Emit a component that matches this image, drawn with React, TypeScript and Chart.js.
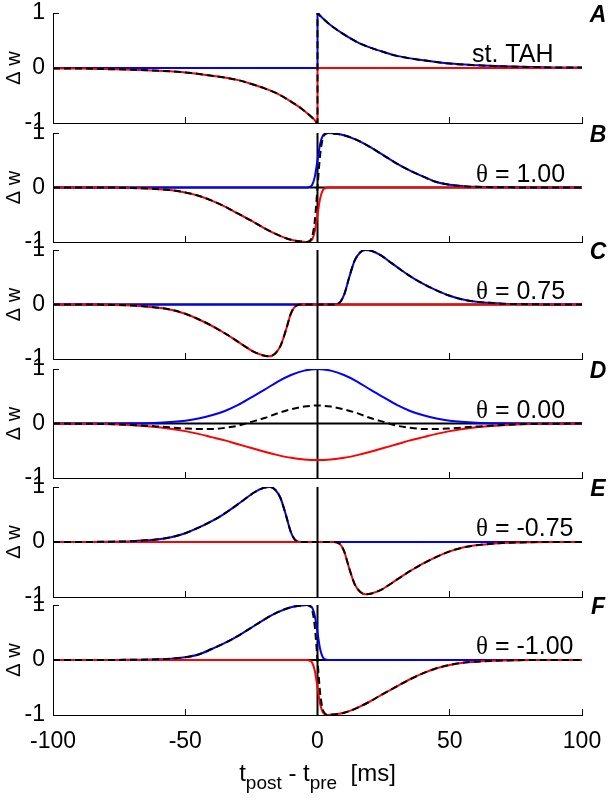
import React, { useEffect, useRef } from "react";
import { Chart, registerables } from "chart.js";
Chart.register(...registerables);

// ---------------- data ----------------
const xTicks = [-100, -50, 0, 50, 100];
const yTicks = [-1, 0, 1];
const panelLetters = ["A", "B", "C", "D", "E", "F"];
const panelLabels = ["st. TAH", "θ = 1.00", "θ = 0.75", "θ = 0.00", "θ = -0.75", "θ = -1.00"];

// A: st. TAH
const xA = [-100, -90, -80, -70, -60, -50, -40, -30, -25, -20, -15, -10, -6, -3, -1, 0, 0, 1, 3, 6, 10, 15, 20, 25, 30, 40, 50, 60, 70, 80, 90, 100];
const blueA = [0, 0, 0, 0, 0, 0, 0, 0, 0, 0, 0, 0, 0, 0, 0, 0, 1, 0.95, 0.86, 0.74, 0.61, 0.47, 0.37, 0.29, 0.22, 0.14, 0.08, 0.05, 0.03, 0.02, 0.01, 0.01];
const redA = [-0.01, -0.01, -0.02, -0.03, -0.05, -0.08, -0.14, -0.22, -0.29, -0.37, -0.47, -0.61, -0.74, -0.86, -0.95, -1, 0, 0, 0, 0, 0, 0, 0, 0, 0, 0, 0, 0, 0, 0, 0, 0];
const blackA = [-0.01, -0.01, -0.02, -0.03, -0.05, -0.08, -0.14, -0.22, -0.29, -0.37, -0.47, -0.61, -0.74, -0.86, -0.95, -1, 1, 0.95, 0.86, 0.74, 0.61, 0.47, 0.37, 0.29, 0.22, 0.14, 0.08, 0.05, 0.03, 0.02, 0.01, 0.01];

// B: theta = 1.00
const xB = [-100, -80, -70, -60, -55, -50, -45, -40, -35, -30, -25, -20, -15, -10, -6, -4, -3, -2, -1, 0, 1, 2, 3, 4, 6, 10, 15, 20, 25, 30, 35, 40, 45, 50, 55, 60, 70, 80, 100];
const blueB = [0, 0, 0, 0, 0, 0, 0, 0, 0, 0, 0, 0, 0, 0, 0, 0, 0.01, 0.05, 0.2, 0.5, 0.8, 0.95, 0.99, 1, 0.99, 0.96, 0.87, 0.74, 0.59, 0.44, 0.31, 0.2, 0.1, 0.05, 0.025, 0.012, 0.005, 0, 0];
const redB = [0, 0, -0.01, -0.03, -0.05, -0.09, -0.15, -0.24, -0.35, -0.48, -0.61, -0.75, -0.87, -0.96, -0.99, -1, -0.99, -0.95, -0.8, -0.5, -0.2, -0.05, -0.01, 0, 0, 0, 0, 0, 0, 0, 0, 0, 0, 0, 0, 0, 0, 0, 0];
const blackB = [0, 0, -0.01, -0.03, -0.05, -0.09, -0.15, -0.24, -0.35, -0.48, -0.61, -0.75, -0.87, -0.96, -0.99, -1, -0.98, -0.9, -0.6, 0, 0.6, 0.9, 0.98, 1, 0.99, 0.96, 0.87, 0.74, 0.59, 0.44, 0.31, 0.2, 0.1, 0.05, 0.025, 0.012, 0.005, 0, 0];

// C: theta = 0.75
const xC = [-100, -90, -80, -70, -65, -60, -55, -50, -45, -40, -36, -32, -28, -24, -20, -18, -16, -14, -12, -10, -8, -6, 0, 6, 8, 10, 12, 14, 16, 18, 20, 24, 28, 32, 36, 40, 45, 50, 55, 60, 65, 70, 80, 90, 100];
const blueC = [0, 0, 0, 0, 0, 0, 0, 0, 0, 0, 0, 0, 0, 0, 0, 0, 0, 0, 0, 0, 0, 0, 0, 0, 0.02, 0.17, 0.5, 0.8, 0.95, 1, 0.99, 0.9, 0.76, 0.62, 0.49, 0.38, 0.26, 0.16, 0.09, 0.05, 0.03, 0.015, 0.005, 0, 0];
const redC = [0, 0, -0.005, -0.02, -0.035, -0.06, -0.1, -0.17, -0.27, -0.39, -0.5, -0.62, -0.75, -0.87, -0.94, -0.95, -0.9, -0.76, -0.48, -0.16, -0.02, 0, 0, 0, 0, 0, 0, 0, 0, 0, 0, 0, 0, 0, 0, 0, 0, 0, 0, 0, 0, 0, 0, 0, 0];
const blackC = [0, 0, -0.005, -0.02, -0.035, -0.06, -0.1, -0.17, -0.27, -0.39, -0.5, -0.62, -0.75, -0.87, -0.94, -0.95, -0.9, -0.76, -0.48, -0.16, -0.02, 0, 0, 0, 0.02, 0.17, 0.5, 0.8, 0.95, 1, 0.99, 0.9, 0.76, 0.62, 0.49, 0.38, 0.26, 0.16, 0.09, 0.05, 0.03, 0.015, 0.005, 0, 0];

// D: theta = 0.00
const xD = [-100, -90, -80, -70, -60, -50, -45, -40, -35, -30, -25, -20, -15, -10, -5, 0, 5, 10, 15, 20, 25, 30, 35, 40, 45, 50, 60, 70, 80, 90, 100];
const blueD = [0, 0, 0, 0.003, 0.014, 0.05, 0.09, 0.15, 0.23, 0.34, 0.48, 0.62, 0.77, 0.89, 0.97, 1, 0.97, 0.89, 0.77, 0.62, 0.48, 0.34, 0.23, 0.15, 0.09, 0.05, 0.014, 0.003, 0, 0, 0];
const redD = [0, -0.005, -0.01, -0.03, -0.07, -0.14, -0.19, -0.25, -0.31, -0.38, -0.45, -0.52, -0.58, -0.63, -0.66, -0.67, -0.66, -0.63, -0.58, -0.52, -0.45, -0.38, -0.31, -0.25, -0.19, -0.14, -0.07, -0.03, -0.01, -0.005, 0];
const blackD = [0, -0.005, -0.01, -0.027, -0.056, -0.09, -0.1, -0.1, -0.08, -0.04, 0.03, 0.1, 0.19, 0.26, 0.31, 0.33, 0.31, 0.26, 0.19, 0.1, 0.03, -0.04, -0.08, -0.1, -0.1, -0.09, -0.056, -0.027, -0.01, -0.005, 0];

// E: theta = -0.75
const xE = [-100, -90, -80, -70, -65, -60, -55, -50, -45, -40, -36, -32, -28, -24, -20, -18, -16, -14, -12, -10, -8, -6, 0, 6, 8, 10, 12, 14, 16, 18, 20, 24, 28, 32, 36, 40, 45, 50, 55, 60, 65, 70, 80, 90, 100];
const blueE = [0, 0, 0.005, 0.015, 0.03, 0.05, 0.09, 0.16, 0.26, 0.38, 0.49, 0.62, 0.76, 0.9, 0.99, 1, 0.95, 0.8, 0.5, 0.17, 0.02, 0, 0, 0, 0, 0, 0, 0, 0, 0, 0, 0, 0, 0, 0, 0, 0, 0, 0, 0, 0, 0, 0, 0, 0];
const redE = [0, 0, 0, 0, 0, 0, 0, 0, 0, 0, 0, 0, 0, 0, 0, 0, 0, 0, 0, 0, 0, 0, 0, 0, -0.02, -0.16, -0.48, -0.76, -0.9, -0.95, -0.94, -0.87, -0.75, -0.62, -0.5, -0.39, -0.27, -0.17, -0.1, -0.06, -0.035, -0.02, -0.005, 0, 0];
const blackE = [0, 0, 0.005, 0.015, 0.03, 0.05, 0.09, 0.16, 0.26, 0.38, 0.49, 0.62, 0.76, 0.9, 0.99, 1, 0.95, 0.8, 0.5, 0.17, 0.02, 0, 0, 0, -0.02, -0.16, -0.48, -0.76, -0.9, -0.95, -0.94, -0.87, -0.75, -0.62, -0.5, -0.39, -0.27, -0.17, -0.1, -0.06, -0.035, -0.02, -0.005, 0, 0];

// F: theta = -1.00
const xF = [-100, -80, -70, -60, -55, -50, -45, -40, -35, -30, -25, -20, -15, -10, -6, -4, -3, -2, -1, 0, 1, 2, 3, 4, 6, 10, 15, 20, 25, 30, 35, 40, 45, 50, 55, 60, 70, 80, 100];
const blueF = [0, 0, 0.005, 0.012, 0.025, 0.05, 0.1, 0.2, 0.31, 0.44, 0.59, 0.74, 0.87, 0.96, 0.99, 1, 0.99, 0.95, 0.8, 0.5, 0.2, 0.05, 0.01, 0, 0, 0, 0, 0, 0, 0, 0, 0, 0, 0, 0, 0, 0, 0, 0];
const redF = [0, 0, 0, 0, 0, 0, 0, 0, 0, 0, 0, 0, 0, 0, 0, 0, -0.01, -0.05, -0.2, -0.5, -0.8, -0.95, -0.99, -1, -0.99, -0.96, -0.87, -0.75, -0.61, -0.48, -0.35, -0.24, -0.15, -0.09, -0.05, -0.03, -0.01, 0, 0];
const blackF = [0, 0, 0.005, 0.012, 0.025, 0.05, 0.1, 0.2, 0.31, 0.44, 0.59, 0.74, 0.87, 0.96, 0.99, 1, 0.98, 0.9, 0.6, 0, -0.6, -0.9, -0.98, -1, -0.99, -0.96, -0.87, -0.75, -0.61, -0.48, -0.35, -0.24, -0.15, -0.09, -0.05, -0.03, -0.01, 0, 0];

const panels = [
  { x: xA, blue: blueA, red: redA, black: blackA, cross: false },
  { x: xB, blue: blueB, red: redB, black: blackB, cross: true },
  { x: xC, blue: blueC, red: redC, black: blackC, cross: true },
  { x: xD, blue: blueD, red: redD, black: blackD, cross: true },
  { x: xE, blue: blueE, red: redE, black: blackE, cross: true },
  { x: xF, blue: blueF, red: redF, black: blackF, cross: true },
];

// ---------------- layout ----------------
const W = 614;
const H = 800;
const plotTop = [13, 133, 250, 369, 487, 605];
const plotBottom = [123, 242, 359, 478, 597, 715];
const plotLeft = 53;
const plotRight = 582;
const SANS = "'Liberation Sans', Arial, Helvetica, sans-serif";
const SERIF = "'Liberation Serif', 'Times New Roman', serif";

function geom(i: number) {
  const last = i === panels.length - 1;
  const padTop = 20;
  const top = plotTop[i] - padTop;
  const plotH = plotBottom[i] - plotTop[i];
  const xAxisH = last ? 40 : 0;
  const padBottom = last ? H - (plotBottom[i] + xAxisH) : 16;
  return { top, padTop, padBottom, xAxisH, h: padTop + plotH + xAxisH + padBottom, last };
}

function pts(xs: number[], ys: number[]) {
  return xs.map((x, i) => ({ x, y: ys[i] }));
}

function textPlugin(idx: number, last: boolean) {
  return {
    id: "panelText" + idx,
    afterDraw(chart: any) {
      const { ctx, chartArea } = chart;
      const zeroY = chart.scales.y.getPixelForValue(0);
      ctx.save();
      ctx.fillStyle = "#000";
      // panel letter
      ctx.font = `bold italic 23px ${SANS}`;
      ctx.textAlign = "center";
      ctx.textBaseline = "middle";
      ctx.fillText(panelLetters[idx], chartArea.right + 16, chartArea.top + 3);
      // parameter label
      ctx.textAlign = "left";
      ctx.textBaseline = "alphabetic";
      const label = panelLabels[idx];
      let lx = chartArea.right - (idx === 0 ? 110 : 106);
      const ly = zeroY - 6;
      if (label.startsWith("θ")) {
        ctx.font = `25px ${SERIF}`;
        ctx.fillText("θ", lx, ly);
        lx += ctx.measureText("θ").width;
        ctx.font = `25px ${SANS}`;
        ctx.fillText(label.slice(1), lx, ly);
      } else {
        ctx.font = `25px ${SANS}`;
        ctx.fillText(label, lx, ly);
      }
      // y title
      ctx.save();
      ctx.translate(chartArea.left - 39, zeroY);
      ctx.rotate(-Math.PI / 2);
      ctx.font = `20px ${SANS}`;
      ctx.textAlign = "center";
      ctx.textBaseline = "middle";
      ctx.fillText("Δ w", 0, 0);
      ctx.restore();
      // x title
      if (last) {
        const parts = [
          { t: "t", sub: false },
          { t: "post", sub: true },
          { t: " - t", sub: false },
          { t: "pre", sub: true },
          { t: "  [ms]", sub: false },
        ];
        const mainFont = `24px ${SANS}`;
        const subFont = `19px ${SANS}`;
        let total = 0;
        for (const p of parts) {
          ctx.font = p.sub ? subFont : mainFont;
          total += ctx.measureText(p.t).width;
        }
        let x = (chartArea.left + chartArea.right) / 2 - total / 2;
        const base = chartArea.bottom + 66;
        ctx.textAlign = "left";
        ctx.textBaseline = "alphabetic";
        for (const p of parts) {
          ctx.font = p.sub ? subFont : mainFont;
          ctx.fillText(p.t, x, p.sub ? base + 8 : base);
          x += ctx.measureText(p.t).width;
        }
      }
      ctx.restore();
    },
  };
}

function makeConfig(i: number): any {
  const p = panels[i];
  const g = geom(i);
  const datasets: any[] = [
    { data: pts(p.x, p.black), borderColor: "#000000", borderWidth: 2, borderDash: [7, 4], order: 1 },
    { data: pts(p.x, p.red), borderColor: "#ff0000", borderWidth: 2, order: 2 },
    { data: pts(p.x, p.blue), borderColor: "#0000ff", borderWidth: 2, order: 3 },
  ];
  if (p.cross) {
    datasets.push({ data: [{ x: 0, y: -1 }, { x: 0, y: 1 }], borderColor: "#000000", borderWidth: 2, order: 4 });
    datasets.push({ data: [{ x: -100, y: 0 }, { x: 100, y: 0 }], borderColor: "#000000", borderWidth: 2, order: 5 });
  }
  const tickFont = { family: SANS, size: 23, lineHeight: 1 };
  return {
    type: "line",
    data: { datasets },
    options: {
      animation: false,
      responsive: false,
      maintainAspectRatio: false,
      events: [],
      layout: { padding: { top: g.padTop, bottom: g.padBottom, left: 0, right: W - plotRight } },
      elements: {
        point: { radius: 0 },
        line: { cubicInterpolationMode: "monotone", fill: false },
      },
      plugins: { legend: { display: false }, tooltip: { enabled: false } },
      scales: {
        x: {
          type: "linear",
          min: -100,
          max: 100,
          afterBuildTicks: (s: any) => {
            s.ticks = xTicks.map((v) => ({ value: v }));
          },
          afterFit: (s: any) => {
            s.height = g.xAxisH;
            s.paddingLeft = 0;
            s.paddingRight = 0;
          },
          ticks: { display: g.last, color: "#000", font: tickFont, padding: 21, maxRotation: 0, autoSkip: false },
          grid: { display: true, drawOnChartArea: false, drawTicks: true, tickLength: -6, color: "#000", lineWidth: 1 },
          border: { display: true, color: "#000", width: 1 },
        },
        y: {
          type: "linear",
          min: -1,
          max: 1,
          afterBuildTicks: (s: any) => {
            s.ticks = yTicks.map((v) => ({ value: v }));
          },
          afterFit: (s: any) => {
            s.width = plotLeft;
            s.paddingTop = 0;
            s.paddingBottom = 0;
          },
          ticks: { color: "#000", font: tickFont, padding: 14 },
          grid: { display: true, drawOnChartArea: false, drawTicks: true, tickLength: -6, color: "#000", lineWidth: 1 },
          border: { display: true, color: "#000", width: 1 },
        },
      },
    },
    plugins: [textPlugin(i, g.last)],
  };
}

export default function App() {
  const refs = useRef<(HTMLCanvasElement | null)[]>([]);
  useEffect(() => {
    const charts = panels.map((_, i) => new Chart(refs.current[i] as HTMLCanvasElement, makeConfig(i)));
    return () => charts.forEach((c) => c.destroy());
  }, []);
  return (
    <div style={{ position: "absolute", left: 0, top: 0, width: W, height: H, background: "#fff", overflow: "hidden" }}>
      {panels.map((_, i) => {
        const g = geom(i);
        return (
          <canvas
            key={i}
            ref={(el) => {
              refs.current[i] = el;
            }}
            width={W}
            height={g.h}
            style={{ position: "absolute", left: 0, top: g.top, width: W, height: g.h }}
          />
        );
      })}
    </div>
  );
}
